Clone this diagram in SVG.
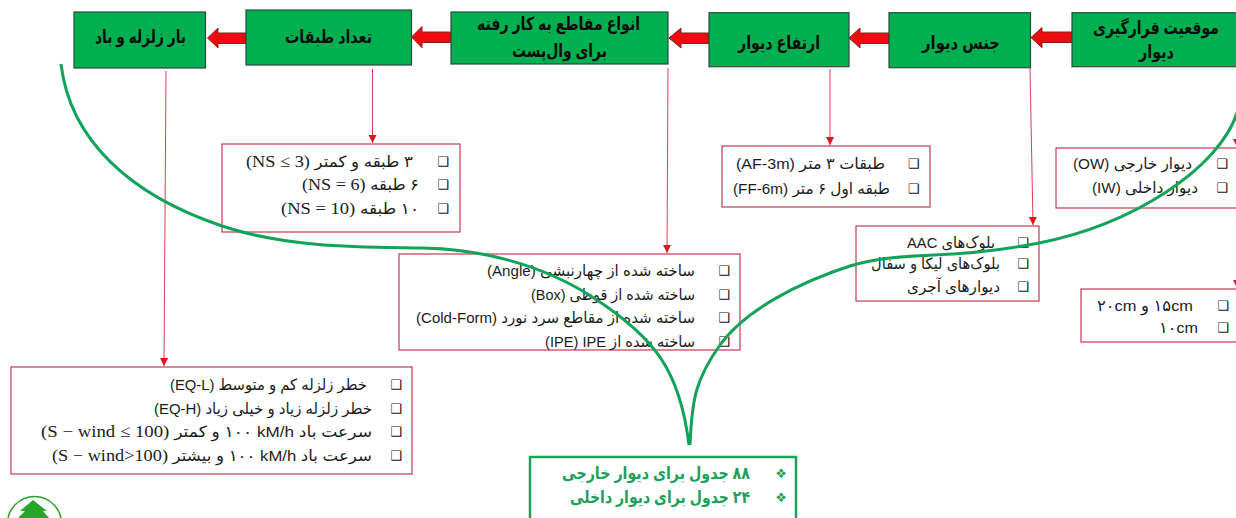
<svg xmlns="http://www.w3.org/2000/svg" width="1236" height="518" viewBox="0 0 1236 518">
<style>
text{font-family:"Liberation Sans","DejaVu Sans",sans-serif;fill:#1c1c1c}
.t,.h,.g{direction:rtl;text-anchor:start}
.t{font-size:15.500px}
.h{font-size:18px;font-weight:bold;fill:#0d0d0d}
.g{font-size:17px;font-weight:bold;fill:#1f9f5c}
.m{font-family:"Liberation Serif",serif;font-size:17px}
.b{font-family:"DejaVu Sans",sans-serif;font-size:13px;text-anchor:middle;fill:#111}
.bg{font-family:"DejaVu Sans",sans-serif;font-size:13px;text-anchor:middle;fill:#1f9f5c}
.box{fill:#00b050;stroke:#2c4a3a;stroke-width:1.200}
.list{fill:#fff;stroke:#c23a50;stroke-width:1.200}
.ar{fill:#ee0a0f;stroke:#7a2a20;stroke-width:1}
.c{fill:none;stroke:#d8404f;stroke-width:1;marker-end:url(#tip)}
.curve{fill:none;stroke:#12a35a;stroke-width:3}
</style>
<defs>
<marker id="tip" markerUnits="userSpaceOnUse" markerWidth="10" markerHeight="8" refX="8" refY="4" orient="auto"><path d="M0 0L8 4L0 8Z" fill="#e8101c"/></marker>
</defs>
<rect width="1236" height="518" fill="#fff"/>

<g id="connectors">
<path class="c" d="M166 71L164 366"/>
<path class="c" d="M372.500 69L372.500 143"/>
<path class="c" d="M668 68L667 253"/>
<path class="c" d="M830 69L830 145"/>
<path class="c" d="M1030 67L1033 225"/>
<path class="c" d="M1237 70L1237 147"/>
<path class="c" d="M1237 240L1237 288"/>
<path class="ar" d="M246 33H218V28L207.500 38L218 48V43.500H246Z"/>
<path class="ar" d="M451 32H422V26.500L411.500 37L422 47.700V42.500H451Z"/>
<path class="ar" d="M709 33H681V28L669 38L681 48V43.500H709Z"/>
<path class="ar" d="M889 33H860V28L849 38L860 48V43.500H889Z"/>
<path class="ar" d="M1072 32H1042V27.500L1031 37.500L1042 47.700V42.500H1072Z"/>
</g>

<g id="node-load"><rect class="box" x="74" y="12" width="131.500" height="56"/><text class="h" x="186" y="43" textLength="91" lengthAdjust="spacingAndGlyphs">بار زلزله و باد</text></g>
<g id="node-stories"><rect class="box" x="246" y="10" width="165.500" height="55"/><text class="h" x="372" y="43" textLength="87" lengthAdjust="spacingAndGlyphs">تعداد طبقات</text></g>
<g id="node-sections"><rect class="box" x="451" y="12" width="217" height="52"/><text class="h" x="640" y="30" textLength="163" lengthAdjust="spacingAndGlyphs">انواع مقاطع به کار رفته</text><text class="h" x="607" y="57" textLength="95" lengthAdjust="spacingAndGlyphs">برای وال‌پست</text></g>
<g id="node-height"><rect class="box" x="709" y="12.700" width="140" height="54"/><text class="h" x="820" y="49" textLength="82" lengthAdjust="spacingAndGlyphs">ارتفاع دیوار</text></g>
<g id="node-material"><rect class="box" x="889" y="12.700" width="141.500" height="55"/><text class="h" x="1000" y="49" textLength="78" lengthAdjust="spacingAndGlyphs">جنس دیوار</text></g>
<g id="node-position"><rect class="box" x="1072" y="12.700" width="170" height="54"/><text class="h" x="1219" y="34" textLength="126" lengthAdjust="spacingAndGlyphs">موقعیت قرارگیری</text><text class="h" x="1174" y="58" textLength="35" lengthAdjust="spacingAndGlyphs">دیوار</text></g>

<g id="list-stories"><rect class="list" x="222" y="144" width="238" height="88"/>
<text class="b" x="443" y="166">❑</text><text class="b" x="443" y="189">❑</text><text class="b" x="443" y="213">❑</text>
<text class="t" x="413" y="167" textLength="167" lengthAdjust="spacingAndGlyphs">۳ طبقه و کمتر <tspan class="m">(NS ≤ 3)</tspan></text>
<text class="t" x="419" y="190" textLength="117" lengthAdjust="spacingAndGlyphs">۶ طبقه <tspan class="m">(NS = 6)</tspan></text>
<text class="t" x="419" y="214" textLength="138" lengthAdjust="spacingAndGlyphs">۱۰ طبقه <tspan class="m">(NS = 10)</tspan></text></g>

<g id="list-height"><rect class="list" x="722" y="146" width="208" height="61"/>
<text class="b" x="913.500" y="168">❑</text><text class="b" x="913.500" y="193">❑</text>
<text class="t" x="885" y="169" textLength="149" lengthAdjust="spacingAndGlyphs">طبقات ۳ متر (AF-3m)</text>
<text class="t" x="890" y="194" textLength="157" lengthAdjust="spacingAndGlyphs">طبقه اول ۶ متر (FF-6m)</text></g>

<g id="list-position"><rect class="list" x="1056" y="148" width="186" height="60"/>
<text class="b" x="1222" y="168">❑</text><text class="b" x="1222" y="192">❑</text>
<text class="t" x="1192" y="169" textLength="119" lengthAdjust="spacingAndGlyphs">دیوار خارجی (OW)</text>
<text class="t" x="1198" y="193" textLength="106" lengthAdjust="spacingAndGlyphs">دیوار داخلی (IW)</text></g>

<g id="list-material"><rect class="list" x="856" y="226" width="183" height="75"/>
<text class="b" x="1023" y="247">❑</text><text class="b" x="1023" y="268">❑</text><text class="b" x="1023" y="291">❑</text>
<text class="t" x="995" y="248" textLength="88" lengthAdjust="spacingAndGlyphs">بلوک‌های AAC</text>
<text class="t" x="1000" y="269" textLength="129" lengthAdjust="spacingAndGlyphs">بلوک‌های لیکا و سفال</text>
<text class="t" x="1000" y="292" textLength="93" lengthAdjust="spacingAndGlyphs">دیوارهای آجری</text></g>

<g id="list-thickness"><rect class="list" x="1081" y="289" width="161" height="53"/>
<text class="b" x="1223" y="310">❑</text><text class="b" x="1223" y="332">❑</text>
<text class="t" x="1193" y="311" textLength="96" lengthAdjust="spacingAndGlyphs">۱۵cm و ۲۰cm</text>
<text class="t" x="1198" y="333" textLength="39" lengthAdjust="spacingAndGlyphs">۱۰cm</text></g>

<g id="list-sections"><rect class="list" x="399" y="254" width="341" height="96"/>
<text class="b" x="724" y="275">❑</text><text class="b" x="724" y="299">❑</text><text class="b" x="724" y="322">❑</text><text class="b" x="724" y="346">❑</text>
<text class="t" x="695" y="276" textLength="208" lengthAdjust="spacingAndGlyphs">ساخته شده از چهارنبشی (Angle)</text>
<text class="t" x="695" y="300" textLength="164" lengthAdjust="spacingAndGlyphs">ساخته شده از قوطی (Box)</text>
<text class="t" x="695" y="323" textLength="279" lengthAdjust="spacingAndGlyphs">ساخته شده از مقاطع سرد نورد (Cold-Form)</text>
<text class="t" x="695" y="347" textLength="150" lengthAdjust="spacingAndGlyphs">ساخته شده از IPE&#x200F; (IPE)</text></g>

<g id="list-load"><rect class="list" x="11" y="367" width="401" height="107"/>
<text class="b" x="396" y="389">❑</text><text class="b" x="396" y="413">❑</text><text class="b" x="396" y="436">❑</text><text class="b" x="396" y="460">❑</text>
<text class="t" x="367" y="390" textLength="197" lengthAdjust="spacingAndGlyphs">خطر زلزله کم و متوسط (EQ-L)</text>
<text class="t" x="372" y="414" textLength="218" lengthAdjust="spacingAndGlyphs">خطر زلزله زیاد و خیلی زیاد (EQ-H)</text>
<text class="t" x="372" y="437" textLength="331" lengthAdjust="spacingAndGlyphs">سرعت باد kM/h&#x200F; ۱۰۰ و کمتر <tspan class="m">(S − wind ≤ 100)</tspan></text>
<text class="t" x="372" y="461" textLength="320" lengthAdjust="spacingAndGlyphs">سرعت باد kM/h&#x200F; ۱۰۰ و بیشتر <tspan class="m">(S − wind&gt;100)</tspan></text></g>

<g id="node-tables"><rect x="530" y="457" width="266" height="70" fill="#fff" stroke="#1fa35a" stroke-width="2.500"/>
<text class="bg" x="781" y="478">❖</text><text class="bg" x="781" y="502">❖</text>
<text class="g" x="750" y="479" textLength="188" lengthAdjust="spacingAndGlyphs">۸۸ جدول برای دیوار خارجی</text>
<text class="g" x="750" y="503" textLength="180" lengthAdjust="spacingAndGlyphs">۲۴ جدول برای دیوار داخلی</text></g>

<g id="logo"><circle cx="34.500" cy="523.500" r="27" fill="#fff" stroke="#2ca02c" stroke-width="1.500"/><path d="M33 500L47 511H43L49 518H18L25 511H20Z" fill="#27a52b"/></g>

<path class="curve" d="M61 64C70 140 130 195 222 226C290 249 370 247 423 248S540 262 597 300S680 370 689 445"/>
<path class="curve" d="M1238 110C1220 170 1130 225 1039 243S900 250 850 266S745 310 720 345S692 400 690 445"/>
</svg>
